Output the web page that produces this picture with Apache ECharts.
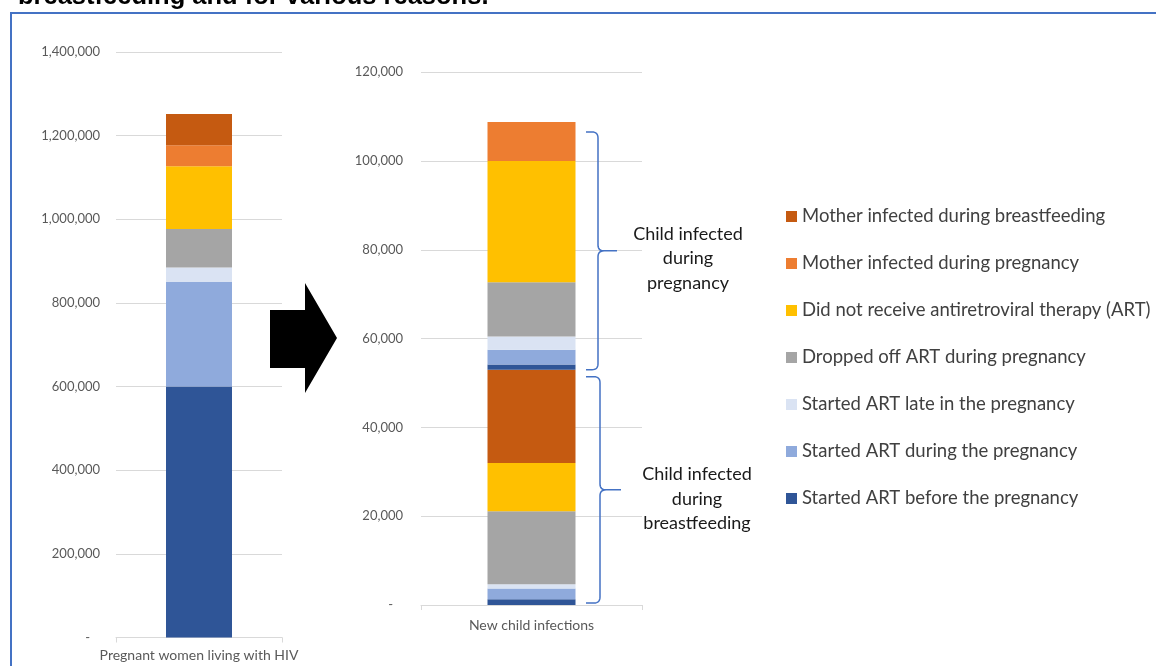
<!DOCTYPE html>
<html>
<head>
<meta charset="utf-8">
<script src="https://cdn.jsdelivr.net/npm/echarts@6/dist/echarts.min.js"></script>
<style>
html,body{margin:0;padding:0;background:#fff;}
#main{width:1156px;height:666px;}
</style>
</head>
<body>
<div id="main"></div>
<script>
// ---- data ----
const seriesNames = [
  'Started ART before the pregnancy',
  'Started ART during the pregnancy',
  'Started ART late in the pregnancy',
  'Dropped off ART during pregnancy',
  'Did not receive antiretroviral therapy (ART)',
  'Mother infected during pregnancy',
  'Mother infected during breastfeeding'
];
const seriesColors = ['#2F5597', '#8FAADC', '#DAE3F3', '#A5A5A5', '#FFC000', '#ED7D31', '#C55A11'];
const leftCategory = ['Pregnant women living with HIV'];
const rightCategory = ['New child infections'];
// pregnant women living with HIV, by series
const pregnantWomen = [600000, 250000, 35000, 92000, 150000, 50000, 75000];
// new child infections: infected during breastfeeding (bottom group)
const infectedBreastfeeding = [1300, 2400, 1000, 16400, 10900, 0, 21000];
// new child infections: infected during pregnancy (top group)
const infectedPregnancy = [1200, 3300, 3000, 12200, 27300, 8800, 0];
const leftAxisMax = 1400000, leftAxisStep = 200000;
const rightAxisMax = 120000, rightAxisStep = 20000;
const braceLabels = ['Child infected\nduring\npregnancy', 'Child infected\nduring\nbreastfeeding'];
const titleFragment = 'breastfeeding and for various reasons.';

const FONT = 'Lato';
const fmt = v => v === 0 ? '-   ' : v.toLocaleString('en-US');

const series = [];
seriesNames.forEach((n, i) => {
  series.push({
    name: n, type: 'bar', stack: 'left', xAxisIndex: 0, yAxisIndex: 0,
    barWidth: 66, itemStyle: { color: seriesColors[i] },
    data: [pregnantWomen[i]]
  });
});
seriesNames.forEach((n, i) => {
  series.push({
    name: n, type: 'bar', stack: 'right', xAxisIndex: 1, yAxisIndex: 1,
    barWidth: 88, itemStyle: { color: seriesColors[i] },
    data: [infectedBreastfeeding[i]]
  });
});
seriesNames.forEach((n, i) => {
  series.push({
    name: n, type: 'bar', stack: 'right', xAxisIndex: 1, yAxisIndex: 1,
    barWidth: 88, itemStyle: { color: seriesColors[i] },
    data: [infectedPregnancy[i]]
  });
});

const axisLabelStyle = { color: '#595959', fontFamily: FONT, fontSize: 13 };
const catLabelStyle = { color: '#595959', fontFamily: FONT, fontSize: 14 };

const chart = echarts.init(document.getElementById('main'), null, { renderer: 'canvas' });
chart.setOption({
  animation: false,
  backgroundColor: '#fff',
  grid: [
    { left: 116, width: 166, top: 52, bottom: 28.5 },
    { left: 421, width: 221, top: 72.3, bottom: 61 }
  ],
  xAxis: [
    { type: 'category', gridIndex: 0, data: leftCategory,
      axisLine: { lineStyle: { color: '#d9d9d9' } },
      axisTick: { show: true, length: 5, lineStyle: { color: '#d9d9d9' } },
      axisLabel: Object.assign({ margin: 11 }, catLabelStyle) },
    { type: 'category', gridIndex: 1, data: rightCategory,
      axisLine: { lineStyle: { color: '#d9d9d9' } },
      axisTick: { show: true, length: 5, lineStyle: { color: '#d9d9d9' } },
      axisLabel: Object.assign({ margin: 13 }, catLabelStyle) }
  ],
  yAxis: [
    { type: 'value', gridIndex: 0, min: 0, max: leftAxisMax, interval: leftAxisStep,
      axisLine: { show: false }, axisTick: { show: false },
      splitLine: { lineStyle: { color: '#d9d9d9' } },
      axisLabel: Object.assign({ margin: 16, formatter: fmt }, axisLabelStyle) },
    { type: 'value', gridIndex: 1, min: 0, max: rightAxisMax, interval: rightAxisStep,
      axisLine: { show: false }, axisTick: { show: false },
      splitLine: { lineStyle: { color: '#d9d9d9' } },
      axisLabel: Object.assign({ margin: 18, formatter: fmt }, axisLabelStyle) }
  ],
  legend: {
    orient: 'vertical', left: 786, top: 207, padding: 0,
    itemWidth: 11, itemHeight: 11, itemGap: 28,
    icon: 'rect',
    selectedMode: false,
    data: seriesNames.slice().reverse(),
    textStyle: { color: '#404040', fontFamily: FONT, fontSize: 18.5, padding: [0, 0, 0, 0] }
  },
  series: series
});

// ---- annotations computed from the data scale ----
const sum = a => a.reduce((s, v) => s + v, 0);
const bfTotal = sum(infectedBreastfeeding);
const total = bfTotal + sum(infectedPregnancy);
const yPix = v => chart.convertToPixel({ xAxisIndex: 1, yAxisIndex: 1 }, [rightCategory[0], v])[1];

function bracePoints(xl, xv, xt, top, bot) {
  const mid = (top + bot) / 2, r = 6, pts = [];
  const quad = (p0, p1, p2) => {
    for (let t = 0; t <= 1.0001; t += 0.125) {
      const a = (1 - t) * (1 - t), b = 2 * (1 - t) * t, c = t * t;
      pts.push([a * p0[0] + b * p1[0] + c * p2[0], a * p0[1] + b * p1[1] + c * p2[1]]);
    }
  };
  pts.push([xl, top]);
  quad([xv - r, top], [xv, top], [xv, top + r]);
  quad([xv, mid - r], [xv, mid], [xv + r, mid]);
  pts.push([xt, mid]);
  pts.push([xv + r, mid]);
  quad([xv + r, mid], [xv, mid], [xv, mid + r]);
  quad([xv, bot - r], [xv, bot], [xv - r, bot]);
  pts.push([xl, bot]);
  return { pts, mid };
}
const b1 = bracePoints(586, 598, 617, yPix(total) + 10, yPix(bfTotal));
const b2 = bracePoints(586, 600, 621, yPix(bfTotal) + 7, yPix(0) - 2);

chart.setOption({
  graphic: [
    { type: 'rect', shape: { x: 11, y: 13, width: 1300, height: 800 },
      style: { fill: 'none', stroke: '#4472C4', lineWidth: 2 }, silent: true },
    { type: 'text', x: 18, y: 10,
      style: { text: titleFragment, font: 'bold 25.5px "Liberation Sans", Arial, sans-serif',
               fill: '#000', textVerticalAlign: 'bottom', verticalAlign: 'bottom' } },
    { type: 'polygon',
      shape: { points: [[270, 310], [305, 310], [305, 283], [337, 338], [305, 393], [305, 368], [270, 368]] },
      style: { fill: '#000' } },
    { type: 'polyline', shape: { points: b1.pts },
      style: { fill: 'none', stroke: '#4472C4', lineWidth: 1.5 } },
    { type: 'polyline', shape: { points: b2.pts },
      style: { fill: 'none', stroke: '#4472C4', lineWidth: 1.5 } },
    { type: 'text', x: 688, y: b1.mid + 7.5,
      style: { text: braceLabels[0], fill: '#1a1a1a', font: '18px ' + FONT, lineHeight: 24.5,
               align: 'center', verticalAlign: 'middle', textAlign: 'center', textVerticalAlign: 'middle' } },
    { type: 'text', x: 697, y: b2.mid + 9,
      style: { text: braceLabels[1], fill: '#1a1a1a', font: '18px ' + FONT, lineHeight: 24.5,
               align: 'center', verticalAlign: 'middle', textAlign: 'center', textVerticalAlign: 'middle' } }
  ]
});
</script>
</body>
</html>
